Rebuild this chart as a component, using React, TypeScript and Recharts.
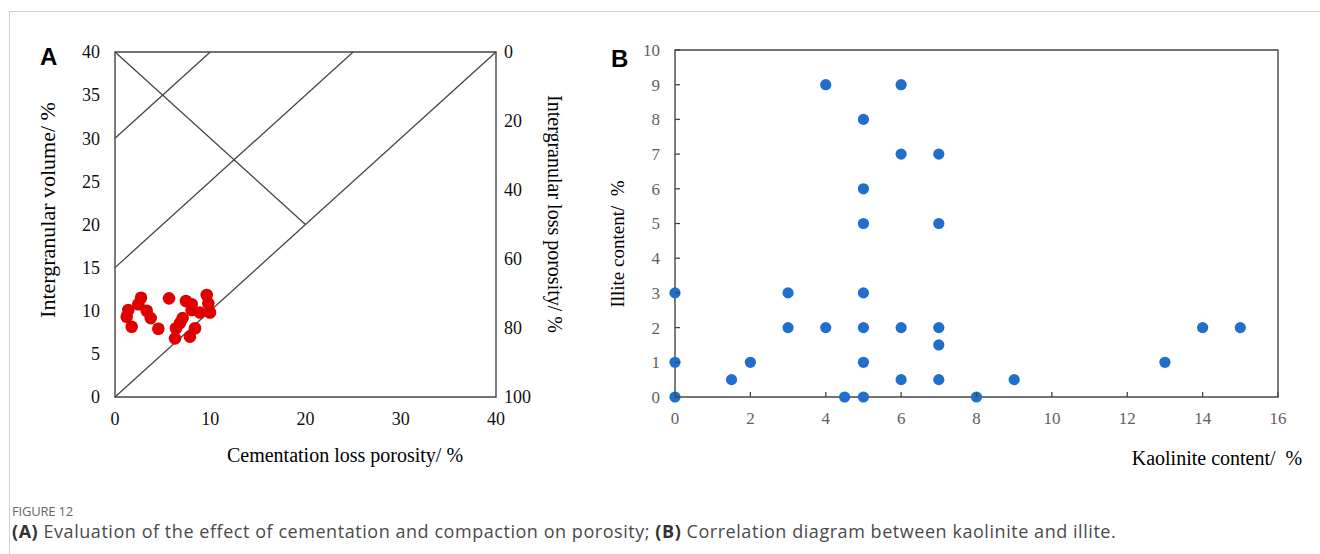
import React from "react";
import {
  ScatterChart,
  Scatter,
  XAxis,
  YAxis,
  ReferenceLine,
  ReferenceArea,
} from "recharts";

// Panel A: cementation loss porosity (x) vs intergranular volume (y)
const cementationLoss = [2.73, 2.45, 1.4, 1.23, 1.75, 3.33, 3.75, 4.55, 5.67, 7.45, 8.05, 8.05, 9.63, 9.8, 8.92, 9.97, 7.1, 6.82, 6.4, 6.3, 8.4, 7.87];
const intergranularVolume = [11.51, 10.75, 10.09, 9.31, 8.15, 10.0, 9.15, 7.91, 11.44, 11.13, 10.75, 10.09, 11.83, 10.86, 9.8, 9.8, 9.15, 8.57, 7.97, 6.8, 7.97, 7.0];

// Panel B: kaolinite (x) vs illite (y)
const kaolinite = [0, 0, 0, 1.5, 2, 3, 3, 4, 4, 4.5, 5, 5, 5, 5, 5, 5, 5, 6, 6, 6, 6, 7, 7, 7, 7, 7, 8, 9, 13, 14, 15];
const illite = [3, 1, 0, 0.5, 1, 3, 2, 9, 2, 0, 8, 6, 5, 3, 2, 1, 0, 9, 7, 2, 0.5, 7, 5, 2, 1.5, 0.5, 0, 0.5, 1, 2, 2];

// Guide lines in panel A (IGV vs cementation loss)
const guideLines = [
  [{ x: 0, y: 0 }, { x: 40, y: 40 }],
  [{ x: 0, y: 15 }, { x: 25, y: 40 }],
  [{ x: 0, y: 30 }, { x: 10, y: 40 }],
  [{ x: 0, y: 40 }, { x: 20, y: 20 }],
];

const ticksAX = [0, 10, 20, 30, 40];
const ticksAY = [0, 5, 10, 15, 20, 25, 30, 35, 40];
const ticksARight = [0, 20, 40, 60, 80, 100];
const ticksBX = [0, 2, 4, 6, 8, 10, 12, 14, 16];
const ticksBY = [0, 1, 2, 3, 4, 5, 6, 7, 8, 9, 10];

const dataA = cementationLoss.map((x, i) => ({ x, y: intergranularVolume[i] }));
const dataB = kaolinite.map((x, i) => ({ x, y: illite[i] }));
// extent of the right-hand (intergranular loss porosity) scale
const rightExtent = [{ x: 0, loss: ticksARight[0] }, { x: 40, loss: ticksARight[ticksARight.length - 1] }];

const SERIF = "'Liberation Serif', 'Times New Roman', serif";
const LINE = "#454545";

const TickALeft = (p: any) => (
  <text x={p.x - 15} y={p.y} dy="0.35em" textAnchor="end" fontFamily={SERIF} fontSize={18} fill="#111">
    {p.payload.value}
  </text>
);
const TickARight = (p: any) => (
  <text x={p.x + 8} y={p.y} dy="0.35em" textAnchor="start" fontFamily={SERIF} fontSize={18} fill="#111">
    {p.payload.value}
  </text>
);
const TickABottom = (p: any) => (
  <text x={p.x} y={p.y + 22} dy="0.35em" textAnchor="middle" fontFamily={SERIF} fontSize={18} fill="#111">
    {p.payload.value}
  </text>
);
const TickBLeft = (p: any) => (
  <g>
    <line x1={p.x} x2={p.x + 5} y1={p.y} y2={p.y} stroke={LINE} strokeWidth={1.3} />
    <text x={p.x - 15} y={p.y} dy="0.35em" textAnchor="end" fontFamily={SERIF} fontSize={17} fill="#5f5f5f">
      {p.payload.value}
    </text>
  </g>
);
const TickBBottom = (p: any) => (
  <g>
    <line x1={p.x} x2={p.x} y1={p.y} y2={p.y - 5} stroke={LINE} strokeWidth={1.3} />
    <text x={p.x} y={p.y + 21} dy="0.35em" textAnchor="middle" fontFamily={SERIF} fontSize={17} fill="#5f5f5f">
      {p.payload.value}
    </text>
  </g>
);

const RedDot = (p: any) => <circle cx={p.cx} cy={p.cy} r={6.3} fill="#e00000" />;
const BlueDot = (p: any) => <circle cx={p.cx} cy={p.cy} r={5.6} fill="#1f6fcb" />;
const NoDot = () => <g />;

export default function App() {
  return (
    <div style={{ position: "absolute", left: 0, top: 0, width: 1320, height: 554, background: "#fff", overflow: "hidden" }}>
      <div style={{ position: "absolute", left: 9, top: 11, width: 1311, height: 543, borderTop: "1px solid #cfcfcf", borderLeft: "1px solid #cfcfcf" }} />

      <div style={{ position: "absolute", left: 0, top: 0 }}>
        <ScatterChart width={600} height={470} margin={{ top: 52, right: 0, bottom: 0, left: 0 }}>
          <XAxis type="number" dataKey="x" domain={[0, 40]} ticks={ticksAX} height={73} axisLine={false} tickLine={false} tickSize={0} tickMargin={0} tick={<TickABottom />} interval={0} />
          <YAxis yAxisId="left" type="number" dataKey="y" domain={[0, 40]} ticks={ticksAY} width={115} axisLine={false} tickLine={false} tickSize={0} tickMargin={0} tick={<TickALeft />} interval={0} />
          <YAxis yAxisId="right" orientation="right" type="number" dataKey="loss" domain={[0, 100]} reversed ticks={ticksARight} width={104} axisLine={false} tickLine={false} tickSize={0} tickMargin={0} tick={<TickARight />} interval={0} />
          <ReferenceArea yAxisId="left" x1={0} x2={40} y1={0} y2={40} fill="none" fillOpacity={0} stroke={LINE} strokeWidth={1.4} />
          {guideLines.map((seg, i) => (
            <ReferenceLine key={i} yAxisId="left" segment={seg} stroke={LINE} strokeWidth={1.3} />
          ))}
          <Scatter yAxisId="right" data={rightExtent} dataKey="loss" shape={<NoDot />} isAnimationActive={false} />
          <Scatter yAxisId="left" data={dataA} shape={<RedDot />} isAnimationActive={false} />
        </ScatterChart>
      </div>

      <div style={{ position: "absolute", left: 560, top: 0 }}>
        <ScatterChart width={760} height={470} margin={{ top: 50, right: 42, bottom: 0, left: 0 }}>
          <XAxis type="number" dataKey="x" domain={[0, 16]} ticks={ticksBX} height={73} axisLine={false} tickLine={false} tickSize={0} tickMargin={0} tick={<TickBBottom />} interval={0} />
          <YAxis type="number" dataKey="y" domain={[0, 10]} ticks={ticksBY} width={115} axisLine={false} tickLine={false} tickSize={0} tickMargin={0} tick={<TickBLeft />} interval={0} />
          <ReferenceArea x1={0} x2={16} y1={0} y2={10} fill="none" fillOpacity={0} stroke={LINE} strokeWidth={1.4} />
          <Scatter data={dataB} shape={<BlueDot />} isAnimationActive={false} />
        </ScatterChart>
      </div>

      <svg width={1320} height={554} style={{ position: "absolute", left: 0, top: 0, pointerEvents: "none" }}>
        <text x={40} y={65} fontFamily="'Liberation Sans', Arial, sans-serif" fontWeight="bold" fontSize={24} fill="#000">A</text>
        <text x={611} y={67} fontFamily="'Liberation Sans', Arial, sans-serif" fontWeight="bold" fontSize={24} fill="#000">B</text>
        <text transform="translate(47,210) rotate(-90)" textAnchor="middle" dy="0.35em" fontFamily={SERIF} fontSize={22} fill="#000">Intergranular volume/ %</text>
        <text x={345} y={455} textAnchor="middle" dy="0.35em" fontFamily={SERIF} fontSize={20} fill="#000">Cementation loss porosity/ %</text>
        <text transform="translate(555,214) rotate(90)" textAnchor="middle" dy="0.35em" fontFamily={SERIF} fontSize={20} fill="#000">Intergranular loss porosity/ %</text>
        <text transform="translate(617,244) rotate(-90)" textAnchor="middle" dy="0.35em" fontFamily={SERIF} fontSize={19} fill="#000" style={{ whiteSpace: "pre" }}>{"Illite content/  %"}</text>
        <text x={1217} y={458} textAnchor="middle" dy="0.35em" fontFamily={SERIF} fontSize={20} fill="#000" style={{ whiteSpace: "pre" }}>{"Kaolinite content/  %"}</text>
      </svg>

      <div style={{ position: "absolute", left: 12, top: 503, lineHeight: "16px", fontFamily: "'Open Sans', sans-serif", fontSize: 13, color: "#666", letterSpacing: -0.2 }}>FIGURE 12</div>
      <div style={{ position: "absolute", left: 12, top: 521, lineHeight: "20px", fontFamily: "'Open Sans', sans-serif", fontSize: 18, letterSpacing: 0.55, color: "#4a4a4a", whiteSpace: "nowrap" }}>
        <b style={{ color: "#333" }}>(A)</b> Evaluation of the effect of cementation and compaction on porosity; <b style={{ color: "#333" }}>(B)</b> Correlation diagram between kaolinite and illite.
      </div>
    </div>
  );
}
